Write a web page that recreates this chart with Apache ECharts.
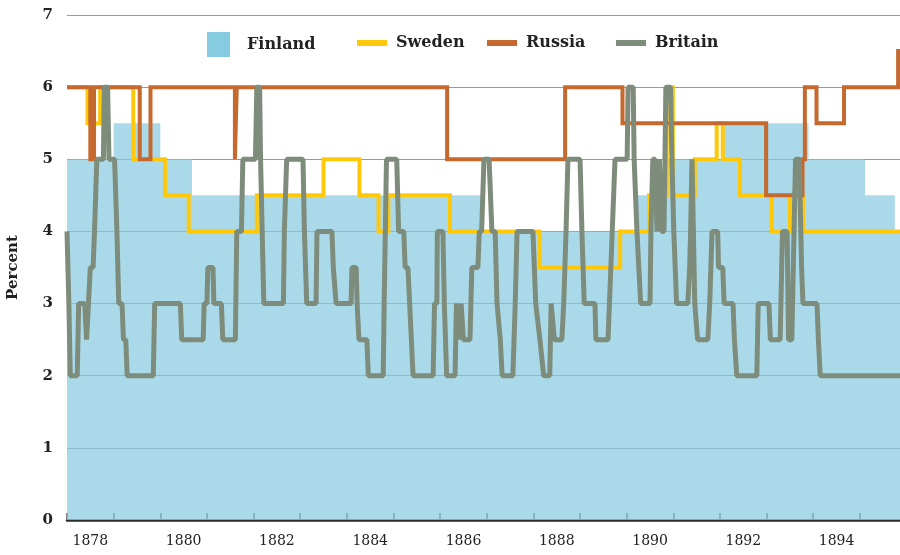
<!DOCTYPE html>
<html>
<head>
<meta charset="utf-8">
<script src="https://cdn.jsdelivr.net/npm/echarts@6/dist/echarts.min.js"></script>
<style>
html,body{margin:0;padding:0;background:#fff;}
#chart{width:900px;height:555px;}
</style>
</head>
<body>
<div id="chart"></div>
<script>
// Discount rates, percent. [year, rate] pairs (rate holds until next change)
const finland = [[1878.0,5],[1879.0,5.5],[1880.0,5],[1880.68,4.5],[1886.93,4],[1890.24,4.5],[1890.86,5],[1892.09,5.5],[1893.9,5],[1895.11,4.5],[1895.75,4],[1895.86,4]];
const sweden = [[1878.0,6],[1878.44,5.5],[1878.71,6],[1879.42,5],[1880.1,4.5],[1880.61,4],[1882.07,4.5],[1883.5,5],[1884.27,4.5],[1884.68,4],[1884.89,4.5],[1886.21,4],[1888.13,3.5],[1889.86,4],[1890.48,4.5],[1890.86,6],[1890.99,4.5],[1891.46,5],[1891.93,5.5],[1892.06,5],[1892.43,4.5],[1893.11,4],[1893.5,4.5],[1893.78,4],[1895.86,4]];
const russia = [[1878.0,6],[1878.5,5],[1878.58,6],[1879.56,5],[1879.79,6],[1881.6,5],[1881.64,6],[1886.15,5],[1888.68,6],[1889.91,5.5],[1892.99,4.5],[1893.77,5],[1893.82,6],[1894.07,5.5],[1894.66,6],[1895.82,6.5],[1895.86,6.5]];
// Britain: turning points of the rate line
const britain = [[1878.0,4],[1878.04,3],[1878.07,2],[1878.22,2],[1878.25,3],[1878.38,3],[1878.42,2.5],[1878.46,3],[1878.5,3.5],[1878.56,3.5],[1878.59,4],[1878.61,4],[1878.64,5],[1878.78,5],[1878.8,6],[1878.87,6],[1878.9,5],[1879.02,5],[1879.07,4],[1879.11,3],[1879.18,3],[1879.21,2.5],[1879.26,2.5],[1879.29,2],[1879.85,2],[1879.88,3],[1880.43,3],[1880.46,2.5],[1880.92,2.5],[1880.94,3],[1881.0,3],[1881.02,3.5],[1881.13,3.5],[1881.15,3],[1881.31,3],[1881.34,2.5],[1881.61,2.5],[1881.64,4],[1881.74,4],[1881.77,5],[1882.04,5],[1882.07,6],[1882.13,6],[1882.15,5],[1882.19,5],[1882.22,3],[1882.64,3],[1882.66,4],[1882.71,5],[1883.06,5],[1883.09,4],[1883.14,3],[1883.34,3],[1883.36,4],[1883.68,4],[1883.71,3.5],[1883.74,3.5],[1883.77,3],[1884.09,3],[1884.11,3.5],[1884.2,3.5],[1884.22,3],[1884.26,2.5],[1884.43,2.5],[1884.46,2],[1884.78,2],[1884.8,3],[1884.85,5],[1885.07,5],[1885.11,4],[1885.22,4],[1885.25,3.5],[1885.31,3.5],[1885.42,2],[1885.85,2],[1885.88,3],[1885.93,3],[1885.94,4],[1886.06,4],[1886.09,3],[1886.14,2],[1886.32,2],[1886.35,3],[1886.39,3],[1886.42,2.5],[1886.45,3],[1886.47,3],[1886.5,2.5],[1886.64,2.5],[1886.68,3.5],[1886.81,3.5],[1886.84,4],[1886.89,4],[1886.94,5],[1887.05,5],[1887.11,4],[1887.18,4],[1887.22,3],[1887.29,2.5],[1887.33,2],[1887.56,2],[1887.61,3],[1887.65,4],[1887.99,4],[1888.05,3],[1888.14,2.5],[1888.22,2],[1888.35,2],[1888.38,3],[1888.41,3],[1888.45,2.5],[1888.61,2.5],[1888.65,3],[1888.7,4],[1888.74,5],[1889.0,5],[1889.04,4],[1889.09,3],[1889.32,3],[1889.34,2.5],[1889.6,2.5],[1889.63,3],[1889.69,4],[1889.75,5],[1890.01,5],[1890.03,6],[1890.14,6],[1890.16,5],[1890.22,4],[1890.3,3],[1890.5,3],[1890.52,4],[1890.56,5],[1890.61,5],[1890.65,4],[1890.7,5],[1890.75,4],[1890.8,4],[1890.84,6],[1890.94,6],[1890.97,5],[1891.01,4],[1891.07,3],[1891.31,3],[1891.35,3.5],[1891.37,4],[1891.4,5],[1891.42,5],[1891.46,3],[1891.52,2.5],[1891.74,2.5],[1891.78,3],[1891.83,4],[1891.95,4],[1891.97,3.5],[1892.06,3.5],[1892.09,3],[1892.28,3],[1892.31,2.5],[1892.36,2],[1892.79,2],[1892.82,3],[1893.05,3],[1893.08,2.5],[1893.29,2.5],[1893.34,4],[1893.44,4],[1893.47,2.5],[1893.54,2.5],[1893.62,5],[1893.7,5],[1893.75,3.5],[1893.78,3],[1894.08,3],[1894.11,2.5],[1894.15,2],[1895.86,2]];

const xMin = 1878, xMax = 1895.86;
const labelYears = [1878,1880,1882,1884,1886,1888,1890,1892,1894];

const serif = '"DejaVu Serif", serif';
const chart = echarts.init(document.getElementById('chart'));

function legendFor(name, left, w, h, top, gap) {
  return {
    data: [name], left: left, top: top, padding: 0,
    itemWidth: w, itemHeight: h, icon: 'rect', selectedMode: false,
    textStyle: {fontFamily: serif, fontWeight: 'bold', fontSize: 16, color: '#222', padding: [0,0,0,gap]}
  };
}

chart.setOption({
  animation: false,
  backgroundColor: '#fff',
  grid: {left: 67, right: 0, top: 15, bottom: 35, containLabel: false, outerBoundsMode: 'none'},
  legend: [
    legendFor('Finland', 207, 23, 25, 32, 12),
    legendFor('Sweden', 357, 30, 6, 35, 4),
    legendFor('Russia', 487, 30, 6, 35, 4),
    legendFor('Britain', 616, 30, 6, 35, 4)
  ],
  xAxis: {
    type: 'value', min: xMin, max: xMax, interval: 1,
    axisLine: {show: true, onZero: false, lineStyle: {color: '#2b2b2b', width: 2.5}},
    axisTick: {show: true, inside: true, length: 7, lineStyle: {color: '#555', width: 1.5}},
    axisLabel: {
      showMaxLabel: false, showMinLabel: true,
      formatter: v => (labelYears.indexOf(v) >= 0 ? String(v) : ''),
      margin: 14, fontFamily: serif, fontSize: 14, color: '#222',
      padding: [0,0,0,46.7]
    },
    splitLine: {show: false}
  },
  yAxis: {
    type: 'value', min: 0, max: 7, interval: 1,
    name: 'Percent', nameLocation: 'middle', nameGap: 46, nameRotate: 90,
    nameTextStyle: {fontFamily: serif, fontWeight: 'bold', fontSize: 15, color: '#222'},
    axisLine: {show: false}, axisTick: {show: false},
    axisLabel: {margin: 14, fontFamily: serif, fontWeight: 'bold', fontSize: 15, color: '#222'},
    splitLine: {show: true, lineStyle: {color: '#999', width: 1.2}}
  },
  series: [
    {name: 'Finland', type: 'line', step: 'end', data: finland, symbol: 'none',
     itemStyle: {color: '#86CBE0'}, lineStyle: {width: 0, color: '#86CBE0'},
     areaStyle: {color: '#86CBE0', opacity: 0.7}, z: 1},
    {name: 'Sweden', type: 'line', step: 'end', data: sweden, symbol: 'none',
     itemStyle: {color: '#FFC90A'}, lineStyle: {width: 4, color: '#FFC90A', join: 'miter'}, z: 2},
    {name: 'Russia', type: 'line', step: 'end', data: russia, symbol: 'none',
     itemStyle: {color: '#C5692F'}, lineStyle: {width: 4, color: '#C5692F', join: 'miter'}, z: 3},
    {name: 'Britain', type: 'line', data: britain, symbol: 'none',
     itemStyle: {color: '#7E8C7C'}, lineStyle: {width: 5, color: '#7E8C7C'}, z: 4}
  ]
});
</script>
</body>
</html>
